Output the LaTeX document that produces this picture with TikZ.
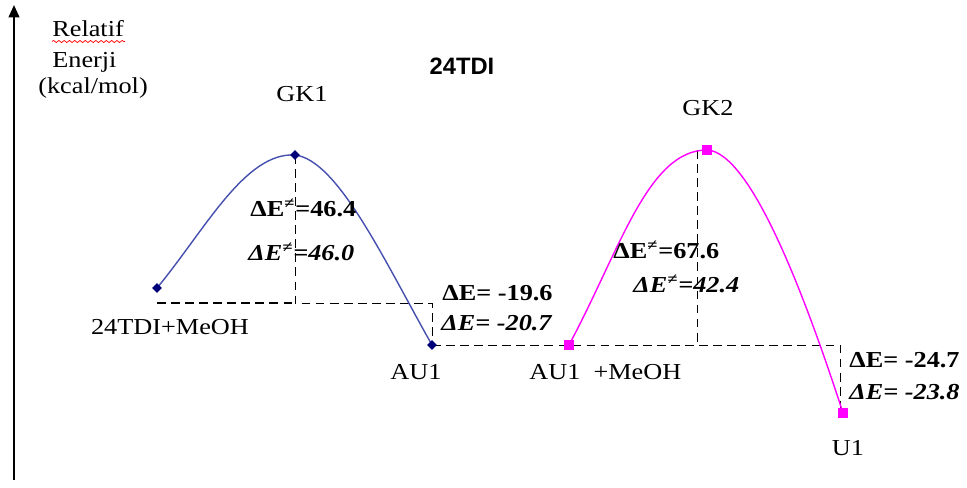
\documentclass[tikz,border=0pt]{standalone}
\usepackage{fontspec}
\setmainfont{Liberation Serif}[FakeStretch=1.15]
\newfontfamily\titrefont{Liberation Sans}
\usetikzlibrary{arrows.meta,shapes.geometric,decorations.pathmorphing}
\definecolor{bleu}{RGB}{70,80,175}
\definecolor{marine}{RGB}{0,0,120}
\definecolor{rose}{RGB}{255,0,255}

\begin{document}
\begin{tikzpicture}[x=0.02cm, y=-0.02cm,
  lab/.style={font=\fontsize{13}{15}\selectfont, inner sep=0pt},
  val/.style={font=\fontsize{13}{15}\selectfont\bfseries, inner sep=0pt, anchor=west},
  vali/.style={font=\fontsize{13}{15}\selectfont\bfseries\itshape, inner sep=0pt, anchor=west},
  ptb/.style={diamond, fill=marine, inner sep=0pt, minimum size=0.2cm},
  ptr/.style={rectangle, fill=rose, inner sep=0pt, minimum size=0.2cm},
  niv/.style={dashed, dash pattern=on 5pt off 3pt, thin}]

\useasboundingbox (0,0) rectangle (967,487);

% axe
\draw[-{Triangle[length=7pt,width=6pt]}, line width=1.2pt] (14,480) -- (14,5);
\node[lab, anchor=west] (rel) at (52,29) {Relatif};
\draw[red, thin, decorate, decoration={snake, amplitude=0.6pt, segment length=3pt}]
  (rel.south west) ++(0,4) -- ++(73,0);
\node[lab, anchor=west] (ener) at (52,62) {Enerji};
\node[lab, anchor=west] (unite) at (38,88) {(kcal/mol)};
\node[font=\titrefont\bfseries\fontsize{13.5}{15}\selectfont] (titre) at (462,66) {24TDI};

% niveaux
\coordinate (R) at (157,288);
\coordinate (TS1) at (295,155);
\coordinate (AU1) at (432,345);
\coordinate (AU1b) at (569,345);
\coordinate (TS2) at (707,150);
\coordinate (U1) at (843,413);

\draw[niv, line width=0.9pt] (157,303) -- (TS1 |- 0,303);
\draw[niv] (TS1) -- (TS1 |- 0,303) -- (AU1 |- 0,303) -- (AU1);
\draw[niv] (AU1) -- (AU1 -| 840,0) -- (840,413);
\draw[niv] (697,150) -- (697,345);

% courbes
\draw[bleu, thick] (R) .. controls (205,230) and (245,152) .. (TS1)
  .. controls (338,160) and (385,262) .. (AU1);
\draw[rose, thick] (AU1b) .. controls (620,250) and (648,150) .. (TS2)
  .. controls (752,152) and (808,305) .. (U1);

\node[ptb] (pR) at (R) {};
\node[ptb] (pTS1) at (TS1) {};
\node[ptb] (pAU1) at (AU1) {};
\node[ptr] (pAU1b) at (AU1b) {};
\node[ptr] (pTS2) at (TS2) {};
\node[ptr] (pU1) at (U1) {};

% etiquettes
\node[lab] (lR) at (170,327) {24TDI+MeOH};
\node[lab] (lTS1) at (302,94) {GK1};
\node[lab] (lAU1) at (416,372) {AU1};
\node[lab, anchor=west] (lAU1b) at (529,372) {AU1\ \ +MeOH};
\node[lab] (lTS2) at (708,108) {GK2};
\node[lab] (lU1) at (848,448) {U1};

% valeurs
\node[val] (e1) at (250,208) {ΔE\textsuperscript{≠}=46.4};
\node[vali] (e1b) at (248,252) {ΔE\textsuperscript{≠}=46.0};
\node[val] (e2) at (442,293) {ΔE= -19.6};
\node[vali] (e2b) at (441,323) {ΔE= -20.7};
\node[val] (e3) at (613,250) {ΔE\textsuperscript{≠}=67.6};
\node[vali] (e3b) at (633,284) {ΔE\textsuperscript{≠}=42.4};
\node[val] (e4) at (849,360) {ΔE= -24.7};
\node[vali] (e4b) at (849,392) {ΔE= -23.8};

\end{tikzpicture}
\end{document}
